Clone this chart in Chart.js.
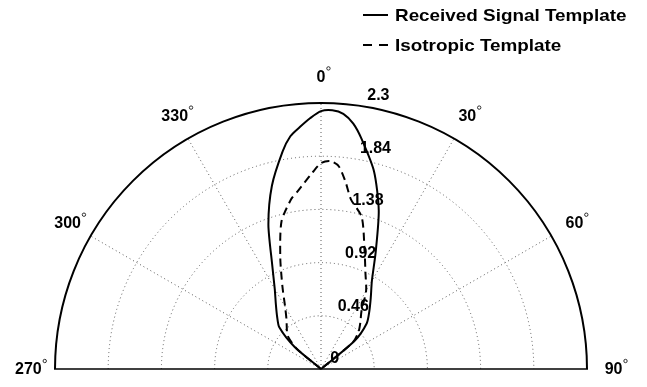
<!DOCTYPE html>
<html>
<head>
<meta charset="utf-8">
<script src="https://cdn.jsdelivr.net/npm/chart.js@4/dist/chart.umd.min.js"></script>
<style>
  body { margin: 0; background: #fff; }
  canvas { display: block; }
</style>
</head>
<body>
<canvas id="grafico" width="647" height="387"></canvas>
<script>
// datos (angulo en grados desde la vertical, radio)
const angles = [-55, -50, -45, -40, -35, -30, -25, -20, -15, -10, -7.5, -5, -2.5, 0, 2.5, 5, 7.5, 10, 15, 20, 25, 30, 35, 40, 45, 50, 55];
const receivedR = [0, 0.30, 0.51, 0.59, 0.68, 0.80, 1.00, 1.33, 1.64, 1.91, 2.03, 2.10, 2.17, 2.23, 2.24, 2.215, 2.14, 2.02, 1.77, 1.46, 1.12, 0.88, 0.75, 0.65, 0.56, 0.38, 0];
const isotropicR = [0, 0.28, 0.41, 0.46, 0.52, 0.62, 0.79, 1.03, 1.32, 1.49, 1.55, 1.62, 1.70, 1.78, 1.80, 1.76, 1.63, 1.49, 1.36, 1.10, 0.91, 0.78, 0.61, 0.53, 0.46, 0.36, 0];

const radialTicks = [0, 0.46, 0.92, 1.38, 1.84, 2.3];
const angleTicks = [270, 300, 330, 0, 30, 60, 90];
const seriesNames = ['Received Signal Template', 'Isotropic Template'];
const rMax = 2.3;

const FONT = 'bold 16px "Liberation Sans", Arial, Helvetica, sans-serif';
const LEGEND_FONT = 'bold 17px "Liberation Sans", Arial, Helvetica, sans-serif';

// polar -> cartesiano
function toXY(ang, r) {
  return ang.map((a, i) => {
    const t = a * Math.PI / 180;
    return { x: r[i] * Math.sin(t), y: r[i] * Math.cos(t) };
  });
}

// rejilla polar, etiquetas y leyenda
const polarPlugin = {
  id: 'polarGrid',
  beforeDatasetsDraw(chart) {
    const ctx = chart.ctx;
    const sx = chart.scales.x, sy = chart.scales.y;
    const cx = sx.getPixelForValue(0), cy = sy.getPixelForValue(0);
    const k = sx.getPixelForValue(1) - cx;
    ctx.save();
    // anillos punteados
    ctx.strokeStyle = '#5a5a5a';
    ctx.lineWidth = 1;
    ctx.setLineDash([1, 3]);
    radialTicks.forEach(v => {
      if (v <= 0 || v >= rMax) return;
      ctx.beginPath();
      ctx.arc(cx, cy, v * k, Math.PI, 2 * Math.PI);
      ctx.stroke();
    });
    // radios punteados
    angleTicks.forEach(a => {
      if (a === 90 || a === 270) return;
      const t = a * Math.PI / 180;
      ctx.beginPath();
      ctx.moveTo(cx, cy);
      ctx.lineTo(cx + rMax * k * Math.sin(t), cy - rMax * k * Math.cos(t));
      ctx.stroke();
    });
    ctx.setLineDash([]);
    // borde exterior
    ctx.strokeStyle = '#000';
    ctx.lineWidth = 2;
    ctx.beginPath();
    ctx.arc(cx, cy, rMax * k, Math.PI, 2 * Math.PI);
    ctx.stroke();
    ctx.lineWidth = 1.5;
    ctx.beginPath();
    ctx.moveTo(cx - rMax * k - 1, cy);
    ctx.lineTo(cx + rMax * k + 1, cy);
    ctx.stroke();
    ctx.restore();
  },
  afterDraw(chart) {
    const ctx = chart.ctx;
    const sx = chart.scales.x, sy = chart.scales.y;
    const cx = sx.getPixelForValue(0), cy = sy.getPixelForValue(0);
    const k = sx.getPixelForValue(1) - cx;
    ctx.save();
    ctx.fillStyle = '#000';
    ctx.strokeStyle = '#000';
    ctx.font = FONT;

    // etiquetas radiales (a 82 grados, como matlab)
    const c82 = Math.cos(82 * Math.PI / 180), s82 = Math.sin(82 * Math.PI / 180);
    ctx.textAlign = 'left';
    ctx.textBaseline = 'alphabetic';
    radialTicks.forEach(v => {
      const rr = (v + rMax / 100) * k;
      ctx.fillText('  ' + v, cx + rr * c82, cy - rr * s82 - 3);
    });

    // etiquetas de angulo
    ctx.textAlign = 'center';
    ctx.textBaseline = 'middle';
    angleTicks.forEach(a => {
      const t = a * Math.PI / 180;
      const px = cx + 1.1 * rMax * k * Math.sin(t);
      const py = cy - 1.1 * rMax * k * Math.cos(t) + 1;
      const txt = String(a);
      ctx.fillText(txt, px, py);
      const w = ctx.measureText(txt).width;
      ctx.lineWidth = 0.8;
      ctx.beginPath();
      ctx.arc(px + w / 2 + 3, py - 9, 1.7, 0, 2 * Math.PI);
      ctx.stroke();
    });

    // leyenda (texto algo mas ancho, como en el original)
    ctx.font = LEGEND_FONT;
    ctx.textAlign = 'left';
    ctx.textBaseline = 'middle';
    const lx = 363, ly = [15, 45];
    chart.data.datasets.forEach((ds, i) => {
      ctx.lineWidth = 2;
      ctx.setLineDash(ds.borderDash ? [9, 7] : []);
      ctx.beginPath();
      ctx.moveTo(lx, ly[i]);
      ctx.lineTo(lx + 25, ly[i]);
      ctx.stroke();
      ctx.setLineDash([]);
      ctx.save();
      ctx.translate(lx + 32, ly[i] + 1);
      ctx.scale(1.11, 1);
      ctx.fillText(ds.label, 0, 0);
      ctx.restore();
    });
    ctx.restore();
  }
};

const ctx = document.getElementById('grafico').getContext('2d');
new Chart(ctx, {
  type: 'scatter',
  data: {
    datasets: [{
      label: seriesNames[0],
      data: toXY(angles, receivedR),
      showLine: true,
      borderColor: '#000',
      borderWidth: 2,
      pointRadius: 0,
      tension: 0.25,
      clip: false
    }, {
      label: seriesNames[1],
      data: toXY(angles, isotropicR),
      showLine: true,
      borderColor: '#000',
      borderWidth: 2,
      borderDash: [8, 5],
      pointRadius: 0,
      tension: 0.25,
      clip: false
    }]
  },
  options: {
    responsive: false,
    animation: false,
    devicePixelRatio: 1,
    layout: { padding: { left: 55, right: 60, top: 103, bottom: 18 } },
    plugins: { legend: { display: false }, tooltip: { enabled: false } },
    scales: {
      x: { type: 'linear', min: -rMax, max: rMax, display: false },
      y: { type: 'linear', min: 0, max: rMax, display: false }
    }
  },
  plugins: [polarPlugin]
});
</script>
</body>
</html>
